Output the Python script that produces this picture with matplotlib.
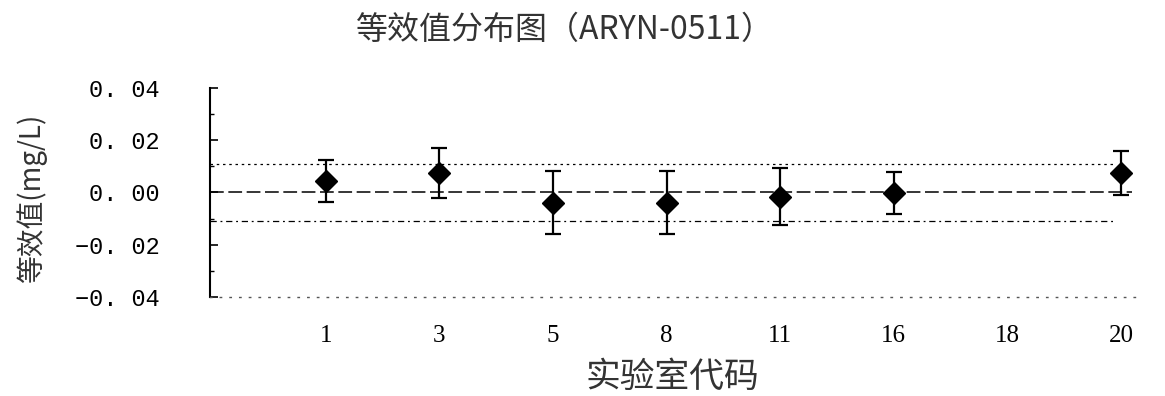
import numpy as np
import matplotlib.pyplot as plt

plt.rcParams["font.family"] = ["Noto Sans CJK SC", "DejaVu Sans"]

# lab codes on the x axis, and the equivalent values with their uncertainty
lab_codes = ["1", "3", "5", "8", "11", "16", "18", "20"]
eq_values = [0.0045, 0.0075, -0.0039, -0.0039, -0.0016, -0.0003, np.nan, 0.0075]
eq_errors = [0.0080, 0.0095, 0.0120, 0.0120, 0.0110, 0.0080, np.nan, 0.0085]

upper_limit = 0.011
lower_limit = -0.011

y_ticks = [-0.04, -0.02, 0.0, 0.02, 0.04]
y_tick_labels = ["\u22120. 04", "\u22120. 02", "0. 00", "0. 02", "0. 04"]

fig = plt.figure(figsize=(11.65, 3.96), dpi=100)
ax = fig.add_axes([0.180, 0.250, 0.794, 0.528])

x = np.arange(len(lab_codes))
vals = np.array(eq_values)
errs = np.array(eq_errors)
ok = ~np.isnan(vals)

ax.set_xlim(-1.02, 7.12)
ax.set_ylim(-0.04, 0.04)

# reference lines: mean and the two limits
xmin, xmax = ax.get_xlim()
ax.hlines(0.0, xmin, 7.1, colors="black", linestyles=(0, (9, 3)), linewidth=1.1)
ax.hlines(upper_limit, xmin, 6.95, colors="black", linestyles=(0, (2, 3)), linewidth=0.9)
ax.hlines(lower_limit, xmin, 6.95, colors="black", linestyles=(0, (5, 3, 1.5, 3)), linewidth=0.9)

ax.errorbar(x[ok], vals[ok], yerr=errs[ok], fmt="D", color="black",
            markersize=11, ecolor="black", elinewidth=1.6, capsize=6,
            capthick=1.6, zorder=3)

ax.set_xticks(x)
ax.set_xticklabels(lab_codes, family=["Liberation Serif", "DejaVu Serif"], fontsize=18)
ax.tick_params(axis="x", length=0, pad=20)

ax.set_yticks(y_ticks)
ax.set_yticklabels(y_tick_labels, family=["Liberation Mono", "DejaVu Sans Mono"], fontsize=17)
ax.set_yticks(np.arange(-0.04, 0.041, 0.01), minor=True)
ax.tick_params(axis="y", direction="in", length=6, width=1.2, pad=36)
ax.tick_params(axis="y", which="minor", direction="in", length=3, width=1.0)

for side in ("top", "right"):
    ax.spines[side].set_visible(False)
ax.spines["left"].set_linewidth(1.5)
ax.spines["bottom"].set_linestyle((0, (1, 6)))
ax.spines["bottom"].set_linewidth(1.0)
ax.spines["bottom"].set_color("#555555")

fig.text(0.485, 0.925, "等效值分布图（ARYN-0511）", ha="center", va="center",
         fontsize=23, color="#333333")
fig.text(0.577, 0.048, "实验室代码", ha="center", va="center",
         fontsize=25, color="#333333")
fig.text(0.027, 0.50, "等效值(mg/L)", ha="center", va="center", rotation=90,
         fontsize=20, color="#333333")

fig.savefig("out.png", dpi=100)
